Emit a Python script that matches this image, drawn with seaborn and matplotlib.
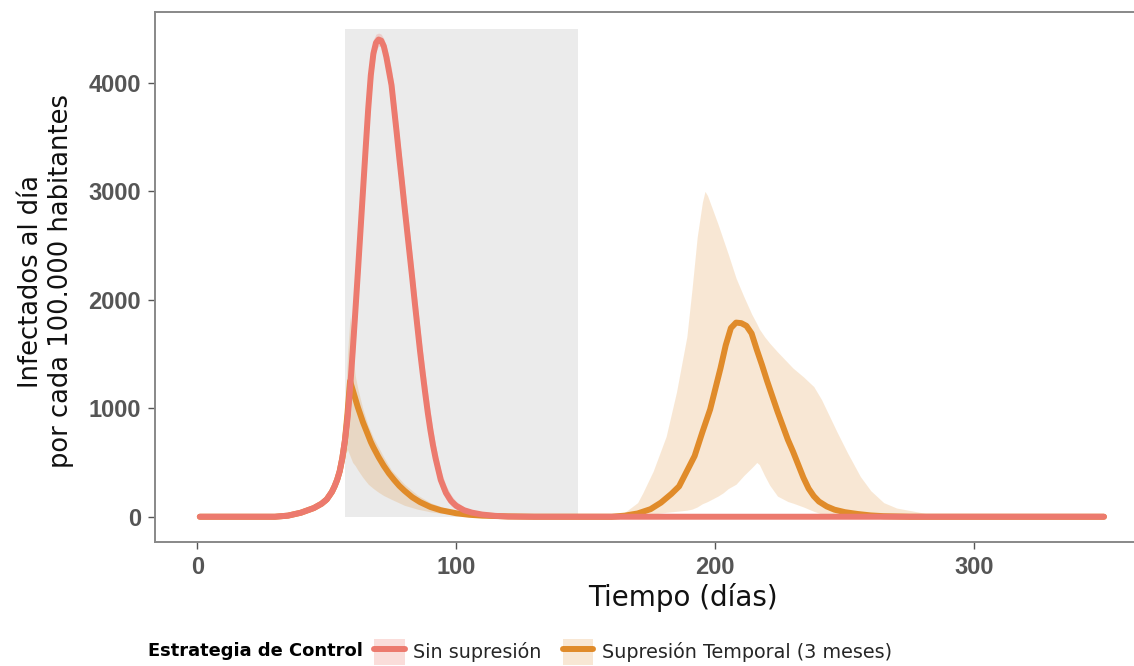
import matplotlib
matplotlib.use("Agg")
import matplotlib.pyplot as plt
import seaborn as sns
import pandas as pd
from matplotlib.patches import Patch
from matplotlib.lines import Line2D

# ---------------- data ----------------
serie_sin = "Sin supresión"
serie_tmp = "Supresión Temporal (3 meses)"

dias_sin = [1, 30, 35, 40, 45, 48, 50, 52, 53, 54, 55, 56, 57, 58, 59, 60, 61, 62, 63, 64,
            65, 66, 67, 68, 69, 70, 71, 72, 73, 74, 75, 76, 77, 78, 79, 80, 81, 82, 83, 84,
            85, 86, 87, 88, 89, 90, 91, 92, 94, 96, 98, 100, 103, 106, 110, 115, 120, 130, 350]
inf_sin = [0, 0, 10, 37, 80, 120, 160, 230, 280, 340, 420, 540, 700, 900, 1180, 1520, 1880, 2250, 2630, 3010,
           3390, 3760, 4070, 4270, 4370, 4400, 4390, 4340, 4240, 4110, 3980, 3760, 3540, 3310, 3090, 2860, 2640, 2420, 2200, 1970,
           1750, 1530, 1330, 1140, 960, 800, 660, 540, 340, 220, 145, 100, 60, 38, 20, 8, 2, 0, 0]
sin_lo = [0, 0, 5, 28, 65, 100, 135, 190, 230, 280, 340, 440, 570, 720, 950, 1250, 1600, 1980, 2360, 2740,
          3120, 3500, 3850, 4120, 4290, 4340, 4330, 4250, 4120, 3960, 3810, 3570, 3340, 3100, 2870, 2640, 2420, 2200, 1990, 1770,
          1560, 1350, 1160, 980, 810, 670, 540, 430, 260, 160, 100, 65, 38, 22, 10, 3, 0, 0, 0]
sin_hi = [0, 0, 15, 46, 95, 140, 185, 270, 330, 400, 500, 640, 830, 1080, 1410, 1790, 2160, 2520, 2900, 3280,
          3650, 3990, 4250, 4400, 4450, 4460, 4450, 4410, 4340, 4240, 4130, 3940, 3730, 3510, 3300, 3070, 2850, 2630, 2410, 2180,
          1960, 1730, 1520, 1330, 1140, 960, 800, 660, 430, 290, 200, 140, 90, 58, 32, 15, 5, 1, 0]

dias_tmp = [1, 30, 35, 40, 45, 48, 50, 52, 53, 54, 55, 56, 57, 58, 59, 60, 61, 62, 63, 64,
            65, 66, 67, 68, 70, 72, 74, 76, 78, 80, 83, 86, 90, 94, 100, 105, 110, 120, 130, 160,
            165, 170, 175, 179, 183, 186, 189, 192, 195, 198, 200, 202, 204, 206, 208, 210, 212, 214, 216, 218,
            220, 222, 224, 226, 228, 230, 232, 234, 236, 238, 240, 243, 246, 250, 255, 260, 265, 275, 350]
inf_tmp = [0, 0, 10, 37, 80, 120, 160, 230, 280, 340, 420, 540, 700, 950, 1250, 1170, 1090, 1010, 940, 870,
           810, 750, 690, 640, 550, 470, 400, 340, 285, 240, 180, 135, 90, 60, 32, 18, 10, 3, 0, 0,
           10, 30, 70, 130, 210, 280, 420, 560, 780, 990, 1180, 1370, 1580, 1740, 1790, 1785, 1760, 1690, 1540, 1400,
           1250, 1110, 970, 840, 710, 600, 480, 360, 260, 190, 140, 95, 65, 42, 25, 12, 5, 0, 0]

dias_rib = [1, 30, 35, 40, 45, 50, 53, 55, 56, 57, 58, 59, 60, 61, 62, 64, 66, 68, 70, 72,
            75, 80, 85, 90, 95, 100, 110, 120, 130, 160, 165, 170, 172, 176, 181, 185, 189, 191, 193, 195,
            196, 197, 199, 201, 203, 205, 208, 211, 214, 216, 217, 219, 221, 224, 228, 230, 234, 238, 241, 243,
            247, 251, 256, 260, 265, 270, 278, 285, 290, 350]
tmp_lo = [0, 0, 5, 28, 65, 130, 230, 360, 450, 560, 620, 560, 500, 470, 430, 360, 300, 260, 225, 195,
          160, 105, 70, 45, 30, 18, 5, 0, 0, 0, 0, 10, 15, 25, 40, 50, 60, 70, 90, 120,
          130, 140, 165, 190, 220, 260, 300, 380, 450, 500, 480, 380, 290, 190, 140, 125, 90, 50, 25, 15,
          5, 0, 0, 0, 0, 0, 0, 0, 0, 0]
tmp_hi = [0, 0, 15, 48, 100, 200, 340, 500, 650, 900, 1500, 1850, 1500, 1300, 1180, 990, 840, 730, 640, 550,
          430, 300, 200, 130, 85, 50, 18, 5, 0, 0, 40, 130, 220, 420, 740, 1150, 1660, 2100, 2580, 2900,
          3000, 2960, 2830, 2700, 2560, 2420, 2200, 2030, 1870, 1780, 1730, 1660, 1600, 1520, 1420, 1370, 1290, 1200, 1080, 980,
          780, 590, 370, 240, 130, 80, 45, 10, 0, 0]

# suppression window (3 months)
supresion_inicio = 57
supresion_fin = 147
supresion_alto = 4500

x_ticks = [0, 100, 200, 300]
y_ticks = [0, 1000, 2000, 3000, 4000]

# ---------------- style ----------------
col_sin = "#EC7A6E"
col_tmp = "#E08B2A"
sns.set_theme(style="white")
plt.rcParams["font.family"] = ["DejaVu Sans"]

df = pd.concat([
    pd.DataFrame({"dia": dias_tmp, "inf": inf_tmp, "serie": serie_tmp}),
    pd.DataFrame({"dia": dias_sin, "inf": inf_sin, "serie": serie_sin}),
], ignore_index=True)

fig = plt.figure(figsize=(11.34, 6.66), dpi=100)
ax = fig.add_axes([155 / 1134, 1 - 542 / 666, (1149 - 155) / 1134, (542 - 12) / 666])

ax.fill_between([supresion_inicio, supresion_fin], 0, supresion_alto,
                color="#EBEBEB", lw=0, zorder=0)
ax.fill_between(dias_rib, tmp_lo, tmp_hi, color=col_tmp, alpha=0.2, lw=0, zorder=1)
ax.fill_between(dias_sin, sin_lo, sin_hi, color=col_sin, alpha=0.25, lw=0, zorder=1)

sns.lineplot(data=df, x="dia", y="inf", hue="serie",
             palette={serie_sin: col_sin, serie_tmp: col_tmp},
             hue_order=[serie_tmp, serie_sin],
             lw=4.3, ax=ax, legend=False, zorder=3, estimator=None, sort=False)

ax.set_xlim(-16.3, 367.4)
ax.set_ylim(-233, 4654)
ax.set_xticks(x_ticks)
ax.set_yticks(y_ticks)
ax.set_xticklabels([str(v) for v in x_ticks])
ax.set_yticklabels([str(v) for v in y_ticks])
for lab in ax.get_xticklabels() + ax.get_yticklabels():
    lab.set_fontfamily("Liberation Sans")
    lab.set_fontweight("bold")
    lab.set_fontsize(17)
    lab.set_color("#555555")
ax.tick_params(axis="both", which="major", length=5, width=1.0, color="#555555",
               bottom=True, left=True, pad=5)
for s in ax.spines.values():
    s.set_color("#888888")
    s.set_linewidth(1.4)

ax.set_xlabel("")
ax.set_ylabel("")
fig.text(683 / 1134, 1 - 597 / 666, "Tiempo (días)", fontsize=20, color="#111111",
         ha="center", va="center")
fig.text(46 / 1134, 1 - 281 / 666, "Infectados al día\npor cada 100.000 habitantes",
         fontsize=18.5, color="#111111", rotation=90, ha="center", va="center",
         multialignment="center", linespacing=1.2)

# legend (ggplot-like, title on the left)
fig.text(148 / 1134, 1 - 651 / 666, "Estrategia de Control", fontsize=12.9,
         fontweight="bold", ha="left", va="center", color="black")
handles = [
    (Patch(facecolor=col_sin, alpha=0.25, lw=0), Line2D([], [], color=col_sin, lw=4.3)),
    (Patch(facecolor=col_tmp, alpha=0.2, lw=0), Line2D([], [], color=col_tmp, lw=4.3)),
]
fig.legend(handles, [serie_sin, serie_tmp], loc="center left",
           bbox_to_anchor=(374 / 1134, 1 - 652 / 666), ncol=2, frameon=False,
           fontsize=13.8, handlelength=1.6, handleheight=1.7, handletextpad=0.45,
           columnspacing=1.1, borderpad=0, borderaxespad=0)

fig.savefig("out.png", dpi=100)
